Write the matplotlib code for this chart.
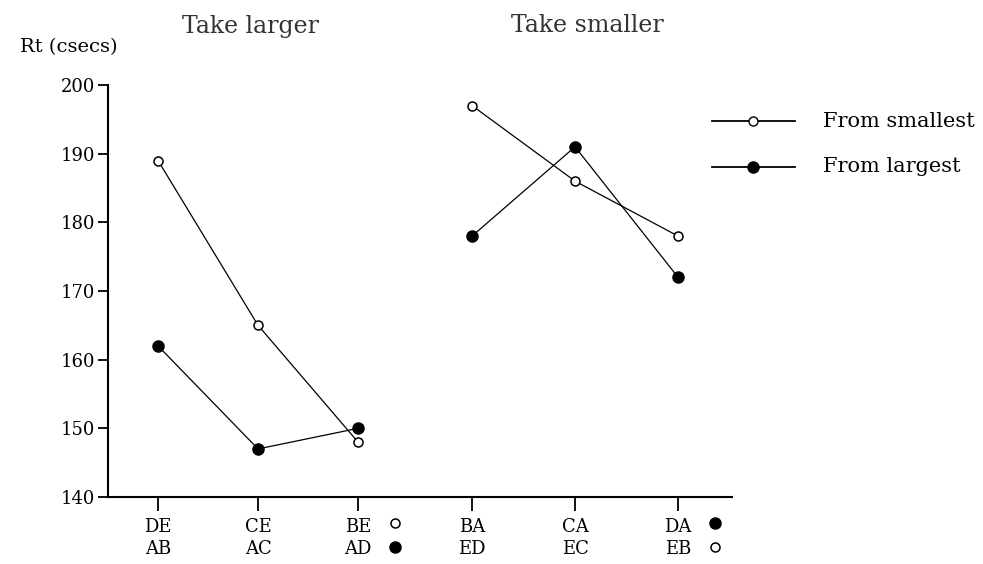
import numpy as np
import matplotlib.pyplot as plt

##########################
# Data
##########################

pairs_top = ['DE', 'CE', 'BE', 'BA', 'CA', 'DA']
pairs_bottom = ['AB', 'AC', 'AD', 'ED', 'EC', 'EB']
# x positions of the six conditions (gap between the two groups)
xpos = [1, 2, 3, 4.14, 5.17, 6.2]

smallest_larger = [189, 165, 148]
largest_larger = [162, 147, 150]
smallest_smaller = [197, 186, 178]
largest_smaller = [178, 191, 172]

yticks = [140, 150, 160, 170, 180, 190, 200]

##########################
# Figure
##########################

plt.rcParams['font.family'] = ['DejaVu Serif']

fig = plt.figure(figsize=(9.83, 5.64), dpi=100)
ax = fig.add_axes([0.1099, 0.1188, 0.6348, 0.7305])

open_kw = dict(color='black', linewidth=0.9, marker='o', markersize=6.5,
               markerfacecolor='white', markeredgecolor='black',
               markeredgewidth=1.1)
fill_kw = dict(color='black', linewidth=0.9, marker='o', markersize=8,
               markerfacecolor='black', markeredgecolor='black')

ax.plot(xpos[:3], smallest_larger, **open_kw)
ax.plot(xpos[:3], largest_larger, **fill_kw)
ax.plot(xpos[3:], largest_smaller, **fill_kw)
ax.plot(xpos[3:], smallest_smaller, **open_kw)

ax.set_xlim(0.5, 6.74)
ax.set_ylim(140, 200)
ax.set_yticks(yticks)
ax.set_xticks(xpos)
ax.set_xticklabels([a + '\n' + b for a, b in zip(pairs_top, pairs_bottom)],
                   fontsize=13, linespacing=1.3)
ax.tick_params(axis='y', labelsize=13, length=7, width=1.3, pad=2)
ax.tick_params(axis='x', length=10, width=1.3, pad=5)
for s in ['top', 'right']:
    ax.spines[s].set_visible(False)
for s in ['left', 'bottom']:
    ax.spines[s].set_linewidth(1.5)

# little markers beside the x labels
for xi, top_fill in [(2, False), (5, True)]:
    x = xpos[xi] + 0.37
    ax.plot([x], [-0.062], transform=ax.get_xaxis_transform(), clip_on=False,
            **(fill_kw if top_fill else open_kw))
    ax.plot([x], [-0.122], transform=ax.get_xaxis_transform(), clip_on=False,
            **(open_kw if top_fill else fill_kw))

# titles
fig.text(250 / 983, 1 - 26 / 564, 'Take larger', fontsize=17,
         ha='center', va='center', color='#333333')
fig.text(587 / 983, 1 - 26 / 564, 'Take smaller', fontsize=17,
         ha='center', va='center', color='#333333')
fig.text(20 / 983, 1 - 47 / 564, 'Rt (csecs)', fontsize=14,
         ha='left', va='center')

# legend drawn by hand
for ly, lab, kw in [(121, 'From smallest', open_kw),
                    (167, 'From largest', fill_kw)]:
    yy = 1 - ly / 564
    fig.add_artist(plt.Line2D([712 / 983, 795 / 983], [yy, yy],
                              color='black', linewidth=1.3))
    fig.add_artist(plt.Line2D([753 / 983], [yy], linestyle='none',
                              marker=kw['marker'],
                              markersize=kw['markersize'],
                              markerfacecolor=kw['markerfacecolor'],
                              markeredgecolor='black'))
    fig.text(823 / 983, yy, lab, fontsize=15, ha='left', va='center')

plt.savefig('out.png', dpi=100)
plt.close()
